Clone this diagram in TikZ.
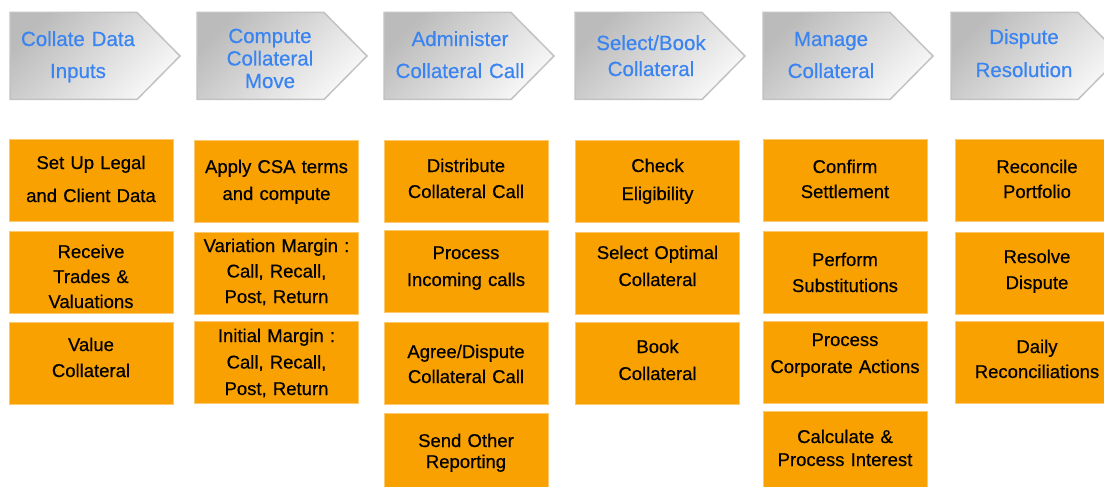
\documentclass[tikz,border=0pt]{standalone}
\usepackage{fontspec}
\setmainfont{Liberation Sans}
\newfontfamily\heavysans{Liberation Sans}[FakeBold=0.5]
\definecolor{boxorange}{HTML}{F9A100}
\definecolor{boxedge}{HTML}{FCC870}
\definecolor{hdrblue}{HTML}{3A84F2}
\definecolor{chevedge}{HTML}{C2C2C2}
\definecolor{chevdark}{HTML}{BBBBBB}
\definecolor{chevlight}{HTML}{F8F8F8}
\begin{document}
\begin{tikzpicture}[x=1pt,y=-1pt,
  box/.style={rectangle, fill=boxorange, draw=boxedge, line width=0.6pt,
    minimum width=164pt, minimum height=82pt, inner sep=0pt,
    text width=160pt, align=center, text height=0pt, text=black},
  hdr/.style={inner sep=0pt, text width=160pt, align=center,
    text height=0pt, text=hdrblue},
  chev/.style={draw=chevedge, line width=1.5pt, top color=chevdark,
    bottom color=chevlight, shading angle=45, line join=miter}]
\useasboundingbox (0,0) rectangle (1104,487);
\clip (0,0) rectangle (1104,487);
% header chevrons
\foreach \x in {10,197,384,575,763,951}{
  \shade[chev] (\x,12.5) -- (\x+127,12.5) -- (\x+170,56) -- (\x+127,99.5) -- (\x,99.5) -- cycle;
}
\node[hdr, text depth=20pt, font=\heavysans\fontsize{20.5}{32}\selectfont] (h1) at (78,56) {Collate Data\\Inputs};
\node[hdr, text depth=26pt, font=\heavysans\fontsize{20.5}{22.5}\selectfont] (h2) at (270,56) {Compute\\Collateral\\Move};
\node[hdr, text depth=20pt, font=\heavysans\fontsize{20.5}{32}\selectfont] (h3) at (460,56) {Administer\\Collateral Call};
\node[hdr, text depth=12pt, font=\heavysans\fontsize{20.5}{26}\selectfont] (h4) at (651,56) {Select/Book\\Collateral};
\node[hdr, text depth=20pt, font=\heavysans\fontsize{20.5}{32}\selectfont] (h5) at (831,56) {Manage\\Collateral};
\node[hdr, text depth=24pt, font=\heavysans\fontsize{20.5}{33}\selectfont] (h6) at (1024,56) {Dispute\\Resolution};
% column 1
\node[box, text depth=22pt, font=\heavysans\fontsize{18.5}{33}\selectfont] (a1) at (91,180) {Set Up Legal\\and Client Data};
\node[box, text depth=29pt, font=\heavysans\fontsize{18.5}{25}\selectfont] (a2) at (91,272.5) {Receive\\Trades \&\\Valuations};
\node[box, text depth=24pt, font=\heavysans\fontsize{18.5}{26}\selectfont] (a3) at (91,363) {Value\\Collateral};
% column 2
\node[box, text depth=16pt, font=\heavysans\fontsize{18.5}{27}\selectfont] (b1) at (276.5,181) {Apply CSA terms\\and compute};
\node[box, text depth=42pt, font=\heavysans\fontsize{18.5}{25.5}\selectfont] (b2) at (276.5,273) {Variation Margin :\\Call, Recall,\\Post, Return};
\node[box, text depth=40pt, font=\heavysans\fontsize{18.5}{26.5}\selectfont] (b3) at (276.5,362) {Initial Margin :\\Call, Recall,\\Post, Return};
% column 3
\node[box, text depth=18pt, font=\heavysans\fontsize{18.5}{26}\selectfont] (c1) at (466,181) {Distribute\\Collateral Call};
\node[box, text depth=25pt, font=\heavysans\fontsize{18.5}{27}\selectfont] (c2) at (466,271.5) {Process\\Incoming calls};
\node[box, text depth=10pt, font=\heavysans\fontsize{18.5}{25}\selectfont] (c3) at (466,363) {Agree/Dispute\\Collateral Call};
\node[box, text depth=14pt, font=\heavysans\fontsize{18.5}{21}\selectfont] (c4) at (466,454) {Send Other\\Reporting};
% column 4
\node[box, text depth=18pt, font=\heavysans\fontsize{18.5}{28}\selectfont] (d1) at (657.5,181) {Check\\Eligibility};
\node[box, text depth=28pt, font=\heavysans\fontsize{18.5}{27}\selectfont] (d2) at (657.5,273) {Select Optimal\\Collateral};
\node[box, text depth=20pt, font=\heavysans\fontsize{18.5}{27}\selectfont] (d3) at (657.5,363) {Book\\Collateral};
% column 5
\node[box, text depth=15pt, font=\heavysans\fontsize{18.5}{25}\selectfont] (e1) at (845,180.5) {Confirm\\Settlement};
\node[box, text depth=12pt, font=\heavysans\fontsize{18.5}{26}\selectfont] (e2) at (845,272) {Perform\\Substitutions};
\node[box, text depth=32pt, font=\heavysans\fontsize{18.5}{27}\selectfont] (e3) at (845,362) {Process\\Corporate Actions};
\node[box, text depth=18pt, font=\heavysans\fontsize{18.5}{23}\selectfont] (e4) at (845,452) {Calculate \&\\Process Interest};
% column 6
\node[box, text depth=15pt, font=\heavysans\fontsize{18.5}{25}\selectfont] (f1) at (1037,180.5) {Reconcile\\Portfolio};
\node[box, text depth=20pt, font=\heavysans\fontsize{18.5}{26}\selectfont] (f2) at (1037,273) {Resolve\\Dispute};
\node[box, text depth=18pt, font=\heavysans\fontsize{18.5}{25}\selectfont] (f3) at (1037,362) {Daily\\Reconciliations};
\end{tikzpicture}
\end{document}
